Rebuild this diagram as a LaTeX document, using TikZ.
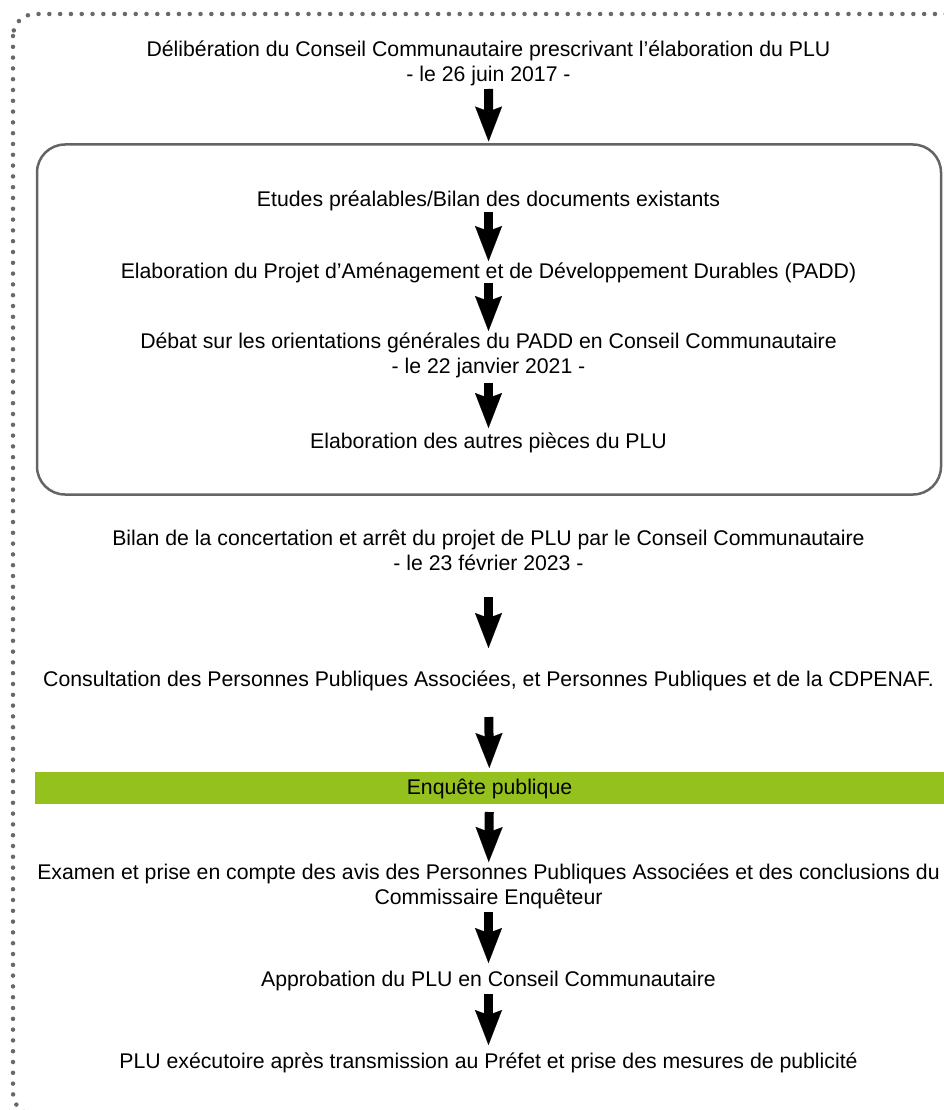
\documentclass[tikz,border=0pt]{standalone}
\usepackage{fontspec}
\setmainfont{Liberation Sans}
\usetikzlibrary{arrows.meta}
\definecolor{dotgray}{RGB}{105,105,105}
\definecolor{boxgray}{RGB}{100,100,100}
\definecolor{enqgreen}{RGB}{149,193,31}
\newcommand\ms{\rule[-5pt]{0pt}{22pt}}
\newcommand\mainsize{\fontsize{21.25pt}{25pt}\selectfont}
\tikzset{
  txt/.style={anchor=north, inner sep=0pt, outer sep=0pt, align=center, font=\mainsize},
  arr/.style={line width=9pt, -{Stealth[length=35pt, width=27pt, inset=5pt, line width=0.1pt]}},
  framebox/.style={draw=boxgray, line width=2.5pt, rounded corners=28pt, inner sep=0pt, outer sep=0pt},
  enqbar/.style={fill=enqgreen, inner sep=0pt, outer sep=0pt, font=\mainsize},
  dotframe/.style={draw=dotgray, line width=4.5pt, line cap=round, dash pattern=on 0pt off 10.8pt, rounded corners=22pt}
}
\begin{document}
\begin{tikzpicture}[x=1pt, y=-1pt]
\useasboundingbox (0,0) rectangle (944,1110);
\clip (0,0) rectangle (944,1110);
% outer dotted frame
\draw[dotframe] (13,14) rectangle (975,1115);
% inner rounded box
\node[framebox, minimum width=904pt, minimum height=350pt] (box) at (489,319.5) {};
% texts
\node[txt] (n1) at (488.5,40) {\ms Délibération du Conseil Communautaire prescrivant l’élaboration du PLU\\\ms - le 26 juin 2017 -};
\node[txt] (n2) at (488.5,190) {\ms Etudes préalables/Bilan des documents existants};
\node[txt] (n3) at (488.5,261) {\ms Elaboration du Projet d’Aménagement et de Développement Durables (PADD)};
\node[txt] (n4) at (488.5,331) {\ms Débat sur les orientations générales du PADD en Conseil Communautaire\\\ms - le 22 janvier 2021 -};
\node[txt] (n5) at (488.5,431) {\ms Elaboration des autres pièces du PLU};
\node[txt] (n6) at (488.5,528) {\ms Bilan de la concertation et arrêt du projet de PLU par le Conseil Communautaire\\\ms - le 23 février 2023 -};
\node[txt] (n7) at (488.5,669) {\ms Consultation des Personnes Publiques Associées, et Personnes Publiques et de la CDPENAF.};
\node[enqbar, minimum width=909pt, minimum height=32pt] (bar) at (489.5,788) {\ms Enquête publique};
\node[txt] (n8) at (488.5,862) {\ms Examen et prise en compte des avis des Personnes Publiques Associées et des conclusions du\\\ms Commissaire Enquêteur};
\node[txt] (n9) at (488.5,969) {\ms Approbation du PLU en Conseil Communautaire};
\node[txt] (n10) at (488.5,1051) {\ms PLU exécutoire après transmission au Préfet et prise des mesures de publicité};
% arrows
\draw[arr, shorten <=2pt, shorten >=3pt] (n1) -- (box);
\draw[arr] (n2) -- (n3);
\draw[arr] (n3) -- (n4);
\draw[arr, shorten <=5pt, shorten >=3pt] (n4) -- (n5);
\draw[arr, shorten <=22pt, shorten >=21pt] (n6) -- (n7);
\draw[arr, shorten <=26pt, shorten >=4pt] (n7) -- (bar);
\draw[arr, shorten <=8pt] (bar) -- (n8);
\draw[arr, shorten <=3pt, shorten >=6pt] (n8) -- (n9);
\draw[arr, shorten <=3pt, shorten >=6pt] (n9) -- (n10);
\end{tikzpicture}
\end{document}
